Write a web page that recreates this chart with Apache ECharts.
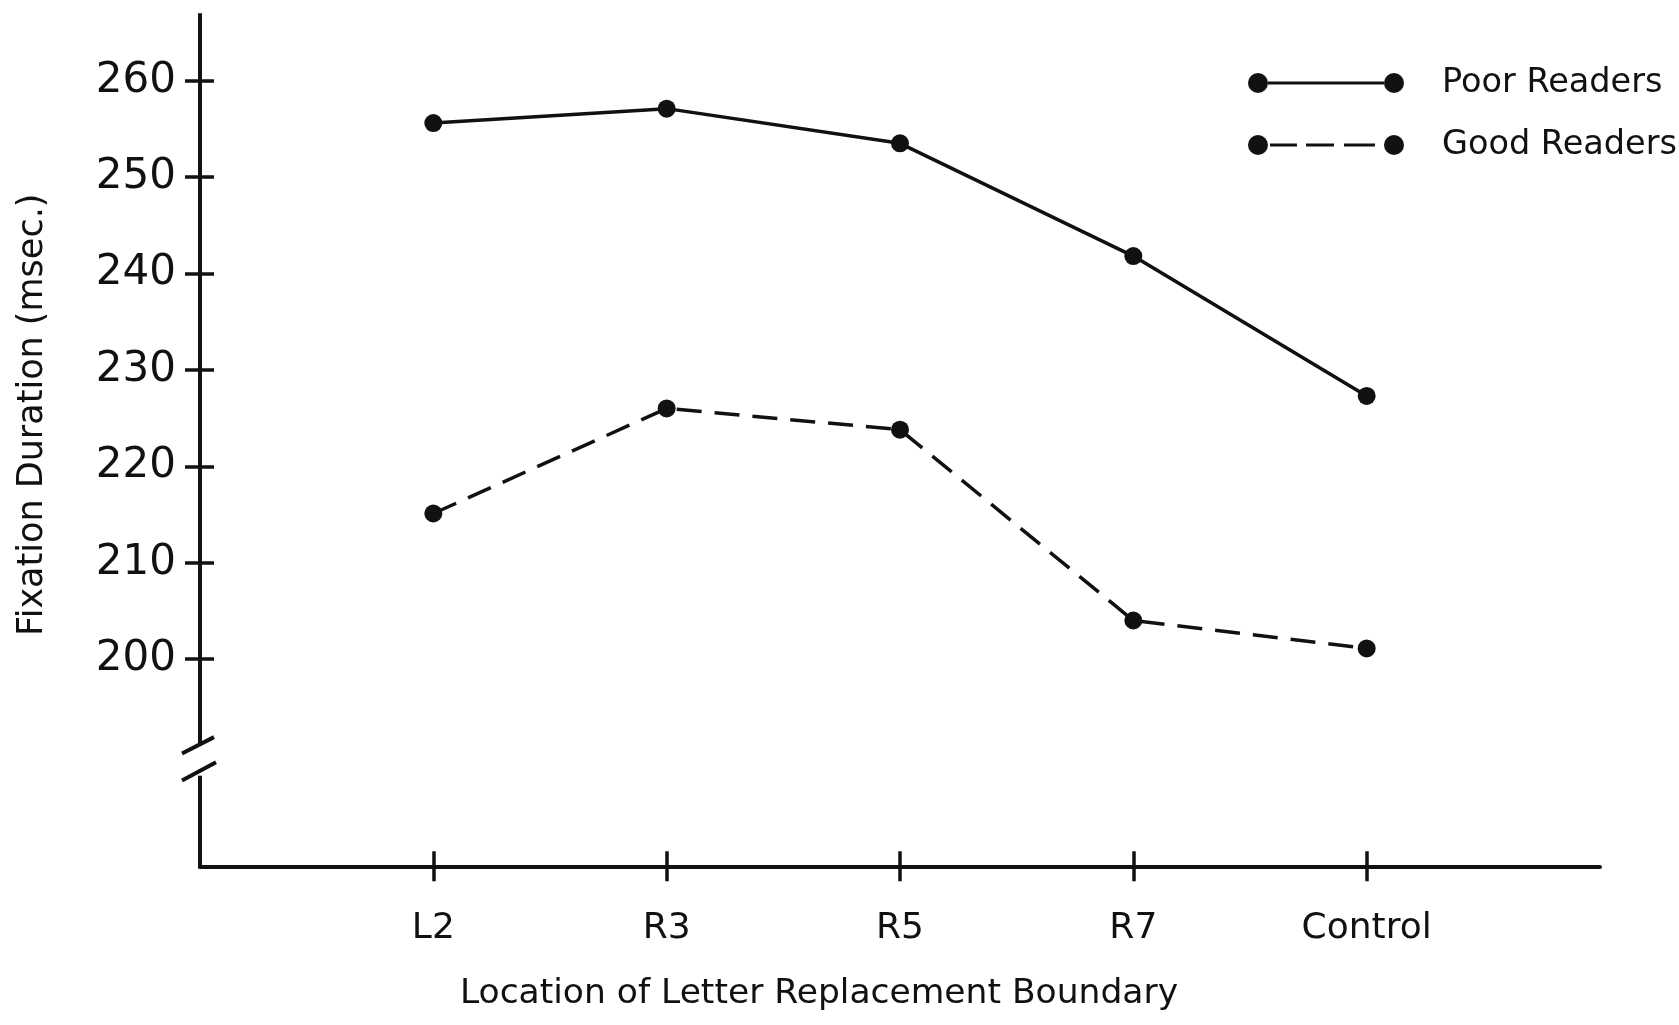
<!DOCTYPE html>
<html>
<head>
<meta charset="utf-8">
<script src="https://cdn.jsdelivr.net/npm/echarts@6/dist/echarts.min.js"></script>
<style>
  html, body { margin: 0; padding: 0; background: #fff; }
  #chart { width: 1679px; height: 1025px; }
</style>
</head>
<body>
<div id="chart"></div>
<script>
// data
var categories = ['L2', 'R3', 'R5', 'R7', 'Control'];
var poorReaders = [255.6, 257.1, 253.5, 241.8, 227.3];
var goodReaders = [215.1, 226.0, 223.8, 204.0, 201.1];
var yTicks = [200, 210, 220, 230, 240, 250, 260];
var xTicks = [0, 1, 2, 3, 4];

var font = 'DejaVu Sans';
var ink = '#111';

var chartDom = document.getElementById('chart');
var myChart = echarts.init(chartDom);

// legend icons: dot - line - dot, and dot - dashes - dot
var solidIcon = 'path://M0,10A10,10,0,1,0,20,10A10,10,0,1,0,0,10Z' +
  'M20,8.6H136V11.4H20Z' +
  'M136,10A10,10,0,1,0,156,10A10,10,0,1,0,136,10Z';
var dashIcon = 'path://M0,10A10,10,0,1,0,20,10A10,10,0,1,0,0,10Z' +
  'M22,8.6H49V11.4H22Z M58,8.6H86V11.4H58Z M96,8.6H127V11.4H96Z' +
  'M136,10A10,10,0,1,0,156,10A10,10,0,1,0,136,10Z';

function toPairs(arr) {
  return arr.map(function (v, i) { return [i, v]; });
}

var option = {
  backgroundColor: '#fff',
  animation: false,
  textStyle: { fontFamily: font, color: ink },
  grid: { left: 200, right: 79, top: 13.2, bottom: 158.7, containLabel: false },
  legend: {
    orient: 'vertical',
    left: 1248,
    top: 66,
    itemWidth: 156,
    itemHeight: 20,
    itemGap: 28,
    padding: 0,
    textStyle: { fontFamily: font, fontSize: 33.5, color: ink, padding: [0, 0, 0, 33] },
    itemStyle: { borderWidth: 0 },
    data: [
      { name: 'Poor Readers', icon: solidIcon },
      { name: 'Good Readers', icon: dashIcon }
    ]
  },
  xAxis: [
    {
      type: 'value',
      min: -1,
      max: 5,
      splitLine: { show: false },
      axisLine: { show: true, onZero: false, lineStyle: { color: ink, width: 4 } },
      axisTick: { show: true, customValues: xTicks, length: 15, lineStyle: { color: ink, width: 3.5 } },
      axisLabel: {
        customValues: xTicks,
        formatter: function (v) { return categories[v]; },
        fontFamily: font, fontSize: 36, color: ink, margin: 44
      },
      name: 'Location of Letter Replacement Boundary',
      nameLocation: 'middle',
      nameGap: 110,
      nameTextStyle: { fontFamily: font, fontSize: 34.5, color: ink, padding: [0, 162, 0, 0] }
    },
    {
      type: 'value',
      min: -1,
      max: 5,
      position: 'bottom',
      splitLine: { show: false },
      axisLine: { show: false, onZero: false },
      axisTick: { show: true, inside: true, customValues: xTicks, length: 15, lineStyle: { color: ink, width: 3.5 } },
      axisLabel: { show: false }
    }
  ],
  yAxis: [
    {
      type: 'value',
      min: 178.5,
      max: 267,
      position: 'left',
      splitLine: { show: false },
      axisLine: { show: false, onZero: false },
      axisTick: { show: true, customValues: yTicks, length: 15, lineStyle: { color: ink, width: 3.5 } },
      axisLabel: { customValues: yTicks, fontFamily: font, fontSize: 42, color: ink, margin: 24 },
      name: 'Fixation Duration (msec.)',
      nameLocation: 'middle',
      nameGap: 150,
      nameTextStyle: { fontFamily: font, fontSize: 35, color: ink, padding: [0, 0, 0, 50] }
    },
    {
      type: 'value',
      min: 178.5,
      max: 267,
      position: 'left',
      splitLine: { show: false },
      axisLine: { show: false, onZero: false },
      axisTick: { show: true, inside: true, customValues: yTicks, length: 14, lineStyle: { color: ink, width: 3.5 } },
      axisLabel: { show: false }
    }
  ],
  series: [
    {
      name: 'Poor Readers',
      type: 'line',
      xAxisIndex: 0,
      yAxisIndex: 0,
      data: toPairs(poorReaders),
      symbol: 'circle',
      symbolSize: 18,
      itemStyle: { color: ink },
      lineStyle: { color: ink, width: 3.5 }
    },
    {
      name: 'Good Readers',
      type: 'line',
      xAxisIndex: 0,
      yAxisIndex: 0,
      data: toPairs(goodReaders),
      symbol: 'circle',
      symbolSize: 18,
      itemStyle: { color: ink },
      lineStyle: { color: ink, width: 3.5, type: [25, 13] }
    }
  ]
};

myChart.setOption(option);

// y axis line with the "//" break, placed through the axis scales
function py(v) { return myChart.convertToPixel({ yAxisIndex: 0 }, v); }
var ax = myChart.convertToPixel({ xAxisIndex: 0 }, -1);
var axisStyle = { stroke: ink, lineWidth: 4 };

myChart.setOption({
  graphic: [
    { type: 'line', shape: { x1: ax, y1: py(267), x2: ax, y2: py(191.1) }, style: axisStyle },
    { type: 'line', shape: { x1: ax, y1: py(187.9), x2: ax, y2: py(178.5) + 2 }, style: axisStyle },
    { type: 'line', shape: { x1: ax - 18, y1: py(190.2), x2: ax + 14, y2: py(191.9) }, style: axisStyle },
    { type: 'line', shape: { x1: ax - 18, y1: py(187.4), x2: ax + 16, y2: py(189.3) }, style: axisStyle }
  ]
});

window.onresize = function () {
  myChart.resize();
};
</script>
</body>
</html>
